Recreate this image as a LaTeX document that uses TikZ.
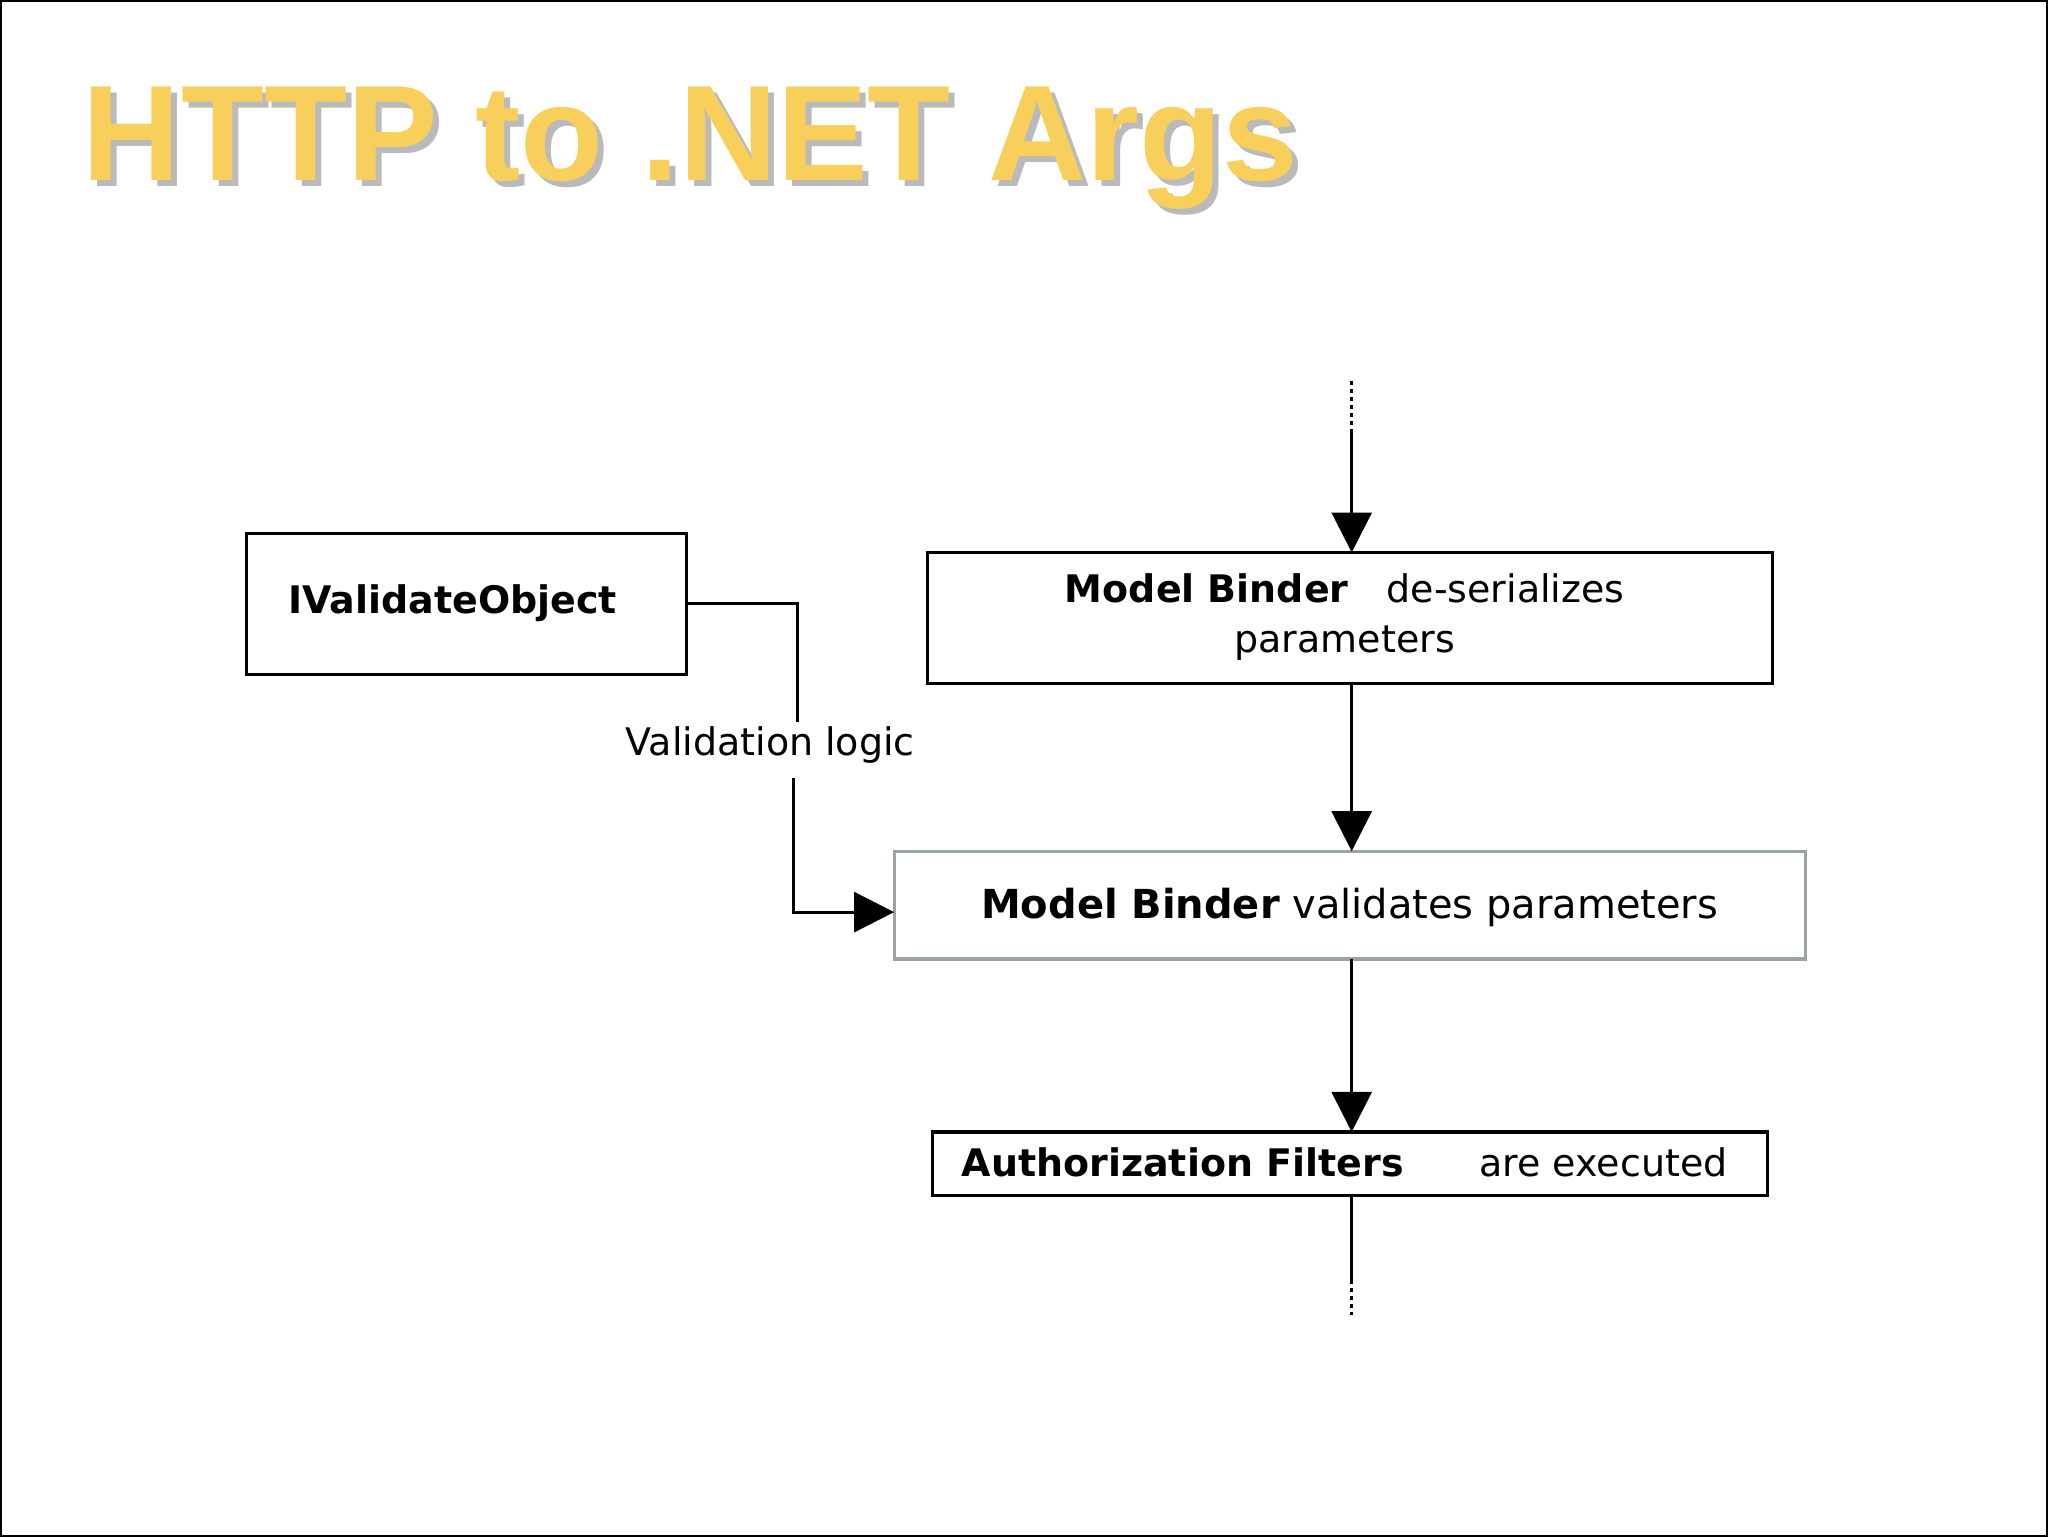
\documentclass[tikz,border=0pt]{standalone}
\usepackage{fontspec}
\setmainfont{DejaVu Sans}
\newfontfamily\titlefont{Liberation Sans}
\usetikzlibrary{arrows.meta}
\definecolor{titleyellow}{HTML}{F7CF5A}
\definecolor{boxgray}{HTML}{9AA3A8}
\begin{document}
\begin{tikzpicture}[x=0.5pt,y=-0.5pt,
  box/.style={draw=black,line width=1.6pt,inner sep=0pt},
  conn/.style={line width=1.4pt,-{Triangle[width=20pt,length=20pt]}},
  plain/.style={line width=1.4pt},
  dots/.style={line width=1.4pt,dash pattern=on 2pt off 2pt},
  ttl/.style={anchor=base west,font=\titlefont\bfseries\fontsize{68}{80}\selectfont}]
\draw[line width=1pt] (0,0) rectangle (2048,1536);
\node[ttl,text=black!45,opacity=0.6] (tsh) at (81,186) {HTTP to .NET Args};
\node[ttl,text=titleyellow] (title) at (75,180) {HTTP to .NET Args};
% boxes
\draw[box] (246,533) rectangle (686,674);
\node[font=\bfseries\fontsize{19}{22}\selectfont] (iv) at (452,603) {IValidateObject};
\coordinate (ivr) at (686,603);
\draw[box] (927,552) rectangle (1773,683);
\node[font=\fontsize{19}{25}\selectfont,align=center] (mb1) at (1345,617) {\textbf{Model Binder}\quad de-serializes\\parameters};
\coordinate (mb1t) at (1352,552);
\coordinate (mb1b) at (1352,683);
\draw[draw=boxgray,line width=1.6pt] (894,851) rectangle (1806,959);
\node[font=\fontsize{20}{24}\selectfont] (mb2) at (1350,907) {\textbf{Model Binder}\ validates parameters};
\coordinate (mb2t) at (1352,851);
\coordinate (mb2b) at (1352,959);
\coordinate (mb2l) at (894,912);
\draw[box] (932,1132) rectangle (1768,1196);
\node[font=\fontsize{19}{22}\selectfont] (af) at (1345,1162) {\textbf{Authorization Filters}\qquad are executed};
\coordinate (aft) at (1352,1132);
\coordinate (afb) at (1352,1196);
% main flow
\coordinate (top1) at (1352,380);
\coordinate (top2) at (1352,430);
\draw[dots] (top1) -- (top2);
\draw[conn] (top2) -- (mb1t);
\draw[conn] (mb1b) -- (mb2t);
\draw[conn] (mb2b) -- (aft);
\coordinate (bot1) at (1352,1280);
\coordinate (bot2) at (1352,1315);
\draw[plain] (afb) -- (bot1);
\draw[dots] (bot1) -- (bot2);
% validation logic
\node[font=\fontsize{19}{22}\selectfont] (vl) at (770,745) {Validation logic};
\draw[plain] (ivr) -- (797,603) -- (797,722);
\draw[conn] (793,778) -- (793,912) -- (mb2l);
\end{tikzpicture}
\end{document}
